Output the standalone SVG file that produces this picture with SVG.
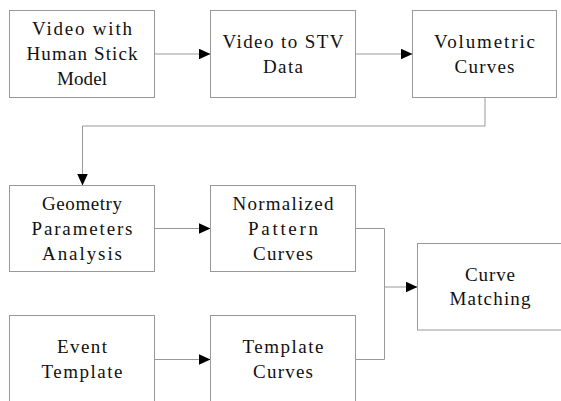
<svg xmlns="http://www.w3.org/2000/svg" width="561" height="401" viewBox="0 0 561 401">
<style>
.box{fill:#fff;stroke:#999;stroke-width:1}
.lbl{font-family:"Liberation Serif","Times New Roman",serif;font-size:19px;fill:#111;text-anchor:middle}
.conn{fill:none;stroke:#999;stroke-width:1}
</style>
<defs>
<marker id="arr" markerUnits="userSpaceOnUse" markerWidth="12" markerHeight="11" refX="12" refY="5.5" orient="auto">
<path d="M0,0 L12,5.5 L0,11 z" fill="#000"/>
</marker>
</defs>
<rect width="561" height="401" fill="#fff"/>
<g id="connectors">
<path class="conn" d="M154.5,54 H210.5" marker-end="url(#arr)"/>
<path class="conn" d="M355.5,54 H412.5" marker-end="url(#arr)"/>
<path class="conn" d="M485,97.5 V126 H82.5 V185.5" marker-end="url(#arr)"/>
<path class="conn" d="M154.5,228.5 H210.5" marker-end="url(#arr)"/>
<path class="conn" d="M355.5,228.5 H384.5 V359.5 H355.5"/>
<path class="conn" d="M384.5,287 H417.5" marker-end="url(#arr)"/>
<path class="conn" d="M154.5,359.5 H210.5" marker-end="url(#arr)"/>
</g>
<g id="video-stick">
<rect class="box" x="9.5" y="10.5" width="145" height="87"/>
<text class="lbl" x="82" y="35" textLength="100" lengthAdjust="spacing">Video with</text>
<text class="lbl" x="82" y="60" textLength="111" lengthAdjust="spacing">Human Stick</text>
<text class="lbl" x="82" y="85" textLength="50" lengthAdjust="spacing">Model</text>
</g>
<g id="video-stv">
<rect class="box" x="210.5" y="10.5" width="145" height="87"/>
<text class="lbl" x="283" y="47.5" textLength="121" lengthAdjust="spacing">Video to STV</text>
<text class="lbl" x="283" y="72.5" textLength="40" lengthAdjust="spacing">Data</text>
</g>
<g id="volumetric">
<rect class="box" x="412.5" y="10.5" width="144" height="87"/>
<text class="lbl" x="484.5" y="47.5" textLength="101" lengthAdjust="spacing">Volumetric</text>
<text class="lbl" x="484.5" y="72.5" textLength="60" lengthAdjust="spacing">Curves</text>
</g>
<g id="geometry">
<rect class="box" x="9.5" y="185.5" width="145" height="86"/>
<text class="lbl" x="82" y="209.5" textLength="80" lengthAdjust="spacing">Geometry</text>
<text class="lbl" x="82" y="234.5" textLength="101" lengthAdjust="spacing">Parameters</text>
<text class="lbl" x="82" y="259.5" textLength="80" lengthAdjust="spacing">Analysis</text>
</g>
<g id="normalized">
<rect class="box" x="210.5" y="185.5" width="145" height="86"/>
<text class="lbl" x="283" y="209.5" textLength="101" lengthAdjust="spacing">Normalized</text>
<text class="lbl" x="283" y="234.5" textLength="70" lengthAdjust="spacing">Pattern</text>
<text class="lbl" x="283" y="259.5" textLength="60" lengthAdjust="spacing">Curves</text>
</g>
<g id="curve-matching">
<rect class="box" x="417.5" y="243.5" width="145" height="86.5"/>
<text class="lbl" x="490" y="281" textLength="50" lengthAdjust="spacing">Curve</text>
<text class="lbl" x="490" y="305" textLength="81" lengthAdjust="spacing">Matching</text>
</g>
<g id="event-template">
<rect class="box" x="9.5" y="315.5" width="145" height="100"/>
<text class="lbl" x="82" y="353" textLength="50" lengthAdjust="spacing">Event</text>
<text class="lbl" x="82" y="378" textLength="81" lengthAdjust="spacing">Template</text>
</g>
<g id="template-curves">
<rect class="box" x="210.5" y="315.5" width="145" height="100"/>
<text class="lbl" x="283" y="353" textLength="81" lengthAdjust="spacing">Template</text>
<text class="lbl" x="283" y="378" textLength="60" lengthAdjust="spacing">Curves</text>
</g>
</svg>
